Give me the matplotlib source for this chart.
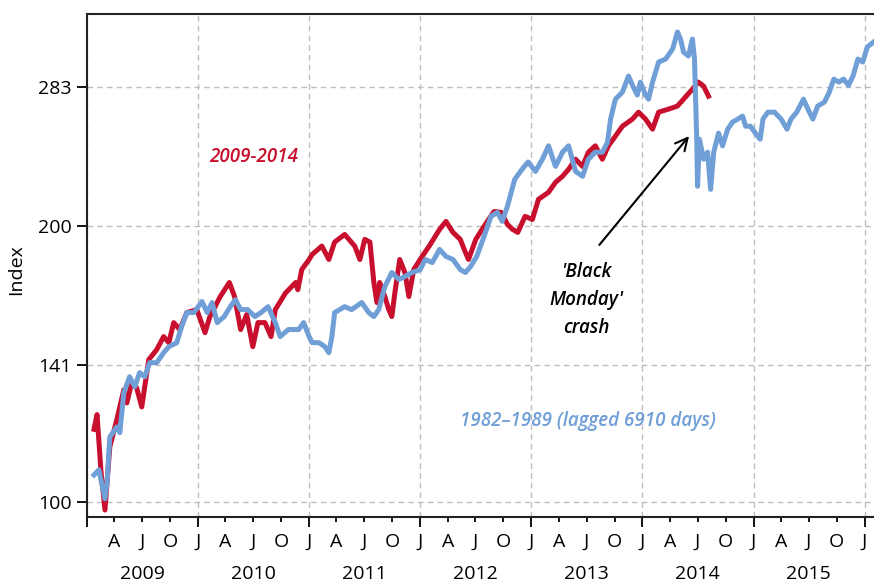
import pandas as pd
import matplotlib
matplotlib.use('Agg')
from matplotlib import pyplot as plt
from matplotlib import dates as mpl_dates
from matplotlib import ticker
from matplotlib.transforms import blended_transform_factory

plt.rcParams['font.family'] = ['Open Sans', 'DejaVu Sans']

# 2009-2014 series (red)
red_dates = ['2009-01-24', '2009-02-03', '2009-02-16', '2009-03-01', '2009-03-17', '2009-04-09',
             '2009-05-02', '2009-05-12', '2009-05-28', '2009-06-13', '2009-06-30', '2009-07-23',
             '2009-08-18', '2009-09-10', '2009-09-27', '2009-10-13', '2009-11-02', '2009-11-25',
             '2009-12-28',
             '2010-01-24', '2010-02-09', '2010-03-15', '2010-04-14', '2010-05-01', '2010-05-21',
             '2010-06-10', '2010-06-30', '2010-07-17', '2010-08-09', '2010-08-29', '2010-09-12',
             '2010-10-15', '2010-11-18', '2010-11-25', '2010-12-08',
             '2011-01-01', '2011-01-11', '2011-02-12', '2011-03-07', '2011-03-26', '2011-04-28',
             '2011-05-31', '2011-06-17', '2011-07-03', '2011-07-20', '2011-08-02', '2011-08-12',
             '2011-08-21', '2011-09-07', '2011-09-20', '2011-09-30', '2011-10-10', '2011-10-26',
             '2011-11-12', '2011-11-25', '2011-12-11',
             '2012-01-01', '2012-01-31', '2012-03-05', '2012-03-26', '2012-04-18', '2012-05-12',
             '2012-05-29', '2012-06-08', '2012-07-02', '2012-07-29', '2012-08-31', '2012-09-24',
             '2012-10-14', '2012-10-31', '2012-11-17', '2012-12-11',
             '2013-01-04', '2013-01-24', '2013-02-26', '2013-03-21', '2013-04-13', '2013-05-03',
             '2013-05-26', '2013-06-18', '2013-07-07', '2013-07-30', '2013-08-22', '2013-09-11',
             '2013-10-04', '2013-10-27', '2013-11-29', '2013-12-19',
             '2014-01-11', '2014-02-03', '2014-02-23', '2014-03-27', '2014-04-26', '2014-05-16',
             '2014-06-14', '2014-07-04', '2014-07-21', '2014-08-06']
red_vals = [120, 124.5, 108, 98, 114.8, 122.9, 132.5, 128.2, 134.9, 133.2, 126.9, 142.9,
            146.5, 151.4, 149.1, 156.8, 154.1, 160.8, 162.0,
            152.9, 159.2, 167.4, 173.4, 167.4, 154.1, 160.0, 147.6, 156.8, 156.8, 151.4, 162.0,
            168.8, 173.4, 170.3, 179.1,
            183.7, 186.0, 190.0, 183.7, 191.9, 195.6, 190.0, 183.7, 193.2, 191.9, 173.4, 164.9,
            173.4, 167.4, 162.0, 159.2, 169.0, 183.7, 177.8, 167.4, 179.1,
            183.7, 190.0, 198.1, 202.1, 196.6, 193.2, 187.0, 183.7, 193.2, 199.6, 207.2, 206.7,
            200.6, 198.1, 196.6, 204.7,
            203.1, 213.6, 217.4, 222.9, 226.3, 230.3, 236.2, 232.0, 240.4, 244.3, 236.2, 244.3,
            250.3, 256.6, 261.2, 265.8,
            261.2, 254.7, 265.8, 267.8, 269.9, 274.6, 281.6, 286.6, 283.7, 276.7]

# 1982-1989 series, lagged (blue)
blue_dates = ['2009-01-24', '2009-02-09', '2009-03-01', '2009-03-08', '2009-03-17', '2009-04-09',
              '2009-04-19', '2009-05-02', '2009-05-21', '2009-06-07', '2009-06-23', '2009-07-10',
              '2009-07-26', '2009-08-18', '2009-09-10', '2009-09-27', '2009-10-23', '2009-11-08',
              '2009-11-25', '2009-12-18',
              '2010-01-14', '2010-01-31', '2010-02-16', '2010-03-05', '2010-03-28', '2010-04-17',
              '2010-05-04', '2010-05-21', '2010-06-13', '2010-07-07', '2010-07-27', '2010-08-19',
              '2010-09-12', '2010-09-28', '2010-10-25', '2010-11-28', '2010-12-14',
              '2011-01-01', '2011-01-11', '2011-02-03', '2011-02-22', '2011-03-07', '2011-03-17',
              '2011-03-26', '2011-04-28', '2011-05-21', '2011-06-23', '2011-07-16', '2011-08-02',
              '2011-08-18', '2011-09-07', '2011-09-30', '2011-10-23', '2011-11-12', '2011-12-05',
              '2012-01-01', '2012-01-18', '2012-02-10', '2012-03-05', '2012-03-26', '2012-04-18',
              '2012-05-12', '2012-05-29', '2012-06-15', '2012-07-05', '2012-07-29', '2012-08-21',
              '2012-09-11', '2012-09-27', '2012-10-14', '2012-11-07', '2012-12-01', '2012-12-21',
              '2013-01-14', '2013-02-06', '2013-02-26', '2013-03-21', '2013-04-13', '2013-05-03',
              '2013-05-26', '2013-06-18', '2013-07-07', '2013-07-30', '2013-08-22', '2013-09-08',
              '2013-09-18', '2013-10-04', '2013-10-27', '2013-11-16', '2013-11-29', '2013-12-15',
              '2013-12-25',
              '2014-01-11', '2014-01-21', '2014-02-03', '2014-02-23', '2014-03-18', '2014-04-10',
              '2014-04-26', '2014-05-06', '2014-05-16', '2014-06-01', '2014-06-14', '2014-06-21',
              '2014-06-24', '2014-06-28', '2014-07-01', '2014-07-07', '2014-07-21', '2014-08-03',
              '2014-08-13', '2014-08-23', '2014-09-08', '2014-09-21', '2014-10-08', '2014-10-24',
              '2014-11-10', '2014-11-26', '2014-12-06', '2014-12-22',
              '2015-01-07', '2015-01-23', '2015-02-01', '2015-02-17', '2015-03-11', '2015-04-02',
              '2015-04-21', '2015-05-04', '2015-05-23', '2015-06-14', '2015-06-29', '2015-07-15',
              '2015-07-31', '2015-08-22', '2015-09-07', '2015-09-22', '2015-10-08', '2015-10-24',
              '2015-11-09', '2015-11-24', '2015-12-10', '2015-12-26',
              '2016-01-10', '2016-01-31']
blue_vals = [107.0, 108.4, 100.8, 104.9, 117.7, 120.7, 119.0, 131.5, 136.9, 133.5, 138.3, 136.9,
             141.8, 141.8, 145.4, 147.6, 149.1, 155.2, 160.8, 160.8,
             165.3, 160.8, 164.9, 156.8, 159.2, 163.2, 166.1, 162.0, 162.0, 159.2, 160.8, 163.2,
             156.8, 151.4, 154.1, 154.1, 156.8,
             151.4, 149.1, 149.1, 147.6, 145.4, 151.4, 160.8, 163.2, 162.0, 164.9, 160.8, 159.2,
             162.0, 171.6, 177.8, 174.7, 176.0, 177.8,
             179.0, 183.7, 182.3, 188.4, 185.1, 183.7, 179.1, 177.8, 180.5, 185.1, 194.6, 204.7,
             206.7, 202.1, 209.9, 224.6, 230.3, 234.6,
             229.1, 236.2, 244.3, 232.0, 240.4, 244.3, 229.1, 226.3, 236.2, 240.4, 240.4, 246.5,
             261.2, 274.6, 279.5, 291.0, 284.3, 277.5, 286.6,
             277.5, 274.6, 286.6, 301.4, 303.7, 311.4, 325.0, 319.3, 309.0, 306.0, 319.3, 303.7,
             279.5, 250.3, 220.7, 248.4, 236.2, 240.4, 219.0, 240.4, 252.2, 244.3, 254.7, 259.3,
             261.2, 263.2, 256.6, 256.6,
             252.2, 248.4, 261.2, 265.8, 265.8, 261.2, 254.7, 261.2, 265.8, 274.6, 267.8, 261.2,
             269.9, 272.6, 279.5, 288.8, 286.6, 288.8, 284.3, 291.0, 303.7, 301.4,
             313.0, 317.0]

y_ticks = [100, 141, 200, 283]
years = [2009, 2010, 2011, 2012, 2013, 2014, 2015]

red = '#c8102e'
blue = '#6f9fd6'

fig = plt.figure(figsize=(8.74, 5.83), dpi=100)
ax = fig.add_axes([87 / 874, 66 / 583, 787 / 874, 503 / 583])

ax.plot(pd.to_datetime(red_dates), red_vals, color=red, lw=3.6, solid_joinstyle='round')
ax.plot(pd.to_datetime(blue_dates), blue_vals, color=blue, lw=3.6, solid_joinstyle='round')

ax.set_yscale('log')
ax.set_ylim(96.3, 340)
ax.set_xlim(pd.Timestamp('2009-01-01'), pd.Timestamp('2016-02-01'))

ax.yaxis.set_major_locator(ticker.FixedLocator(y_ticks))
ax.yaxis.set_major_formatter(ticker.FixedFormatter([str(t) for t in y_ticks]))
ax.yaxis.set_minor_locator(ticker.NullLocator())

ax.xaxis.set_major_locator(mpl_dates.MonthLocator(bymonth=1))
ax.xaxis.set_minor_locator(mpl_dates.MonthLocator(bymonth=[4, 7, 10]))


def month_letter(x, pos=None):
    d = mpl_dates.num2date(x)
    if d.year == 2009 and d.month == 1:
        return ''
    return d.strftime('%b')[0]


ax.xaxis.set_major_formatter(ticker.FuncFormatter(month_letter))
ax.xaxis.set_minor_formatter(ticker.FuncFormatter(month_letter))

fs = 14
ax.tick_params(axis='y', which='major', length=7, width=1.3, labelsize=fs, pad=4)
ax.tick_params(axis='x', which='major', length=7.5, width=1.3, labelsize=fs, pad=4)
ax.tick_params(axis='x', which='minor', length=3.8, width=1.3, labelsize=fs, pad=7.7)

ax.grid(True, which='major', color='#bdbdbd', linestyle=(0, (4, 3)), lw=1)
ax.set_axisbelow(True)

for side in ['left', 'bottom', 'top']:
    ax.spines[side].set_linewidth(1.5)
    ax.spines[side].set_color('#222222')
ax.spines['right'].set_visible(False)

trans = blended_transform_factory(ax.transData, ax.transAxes)
for yr in years:
    ax.text(pd.Timestamp(f'{yr}-07-01'), -0.113, str(yr), transform=trans,
            ha='center', va='center', fontsize=fs)

ax.set_ylabel('Index', fontsize=fs)
ax.yaxis.set_label_coords(-62 / 787, 247 / 503)

ax.text(pd.Timestamp('2010-07-03'), 237.8, '2009-2014', color=red, fontsize=13.5,
        style='italic', fontweight='semibold', ha='center', va='center')
ax.text(pd.Timestamp('2013-07-07'), 122.6, '1982\u20131989 (lagged 6910 days)', color=blue,
        fontsize=13.5, style='italic', fontweight='semibold', ha='center', va='center')
ax.text(pd.Timestamp('2013-06-30'), 166, "'Black\nMonday'\ncrash", color='black',
        fontsize=13.5, style='italic', fontweight='semibold', ha='center', va='center',
        linespacing=1.55)
ax.annotate('', xy=(pd.Timestamp('2014-06-03'), 250.3),
            xytext=(pd.Timestamp('2013-08-12'), 190.5),
            arrowprops=dict(arrowstyle='->', color='black', lw=1.5, mutation_scale=22,
                            shrinkA=0, shrinkB=0))

plt.savefig('out.png', dpi=100)
